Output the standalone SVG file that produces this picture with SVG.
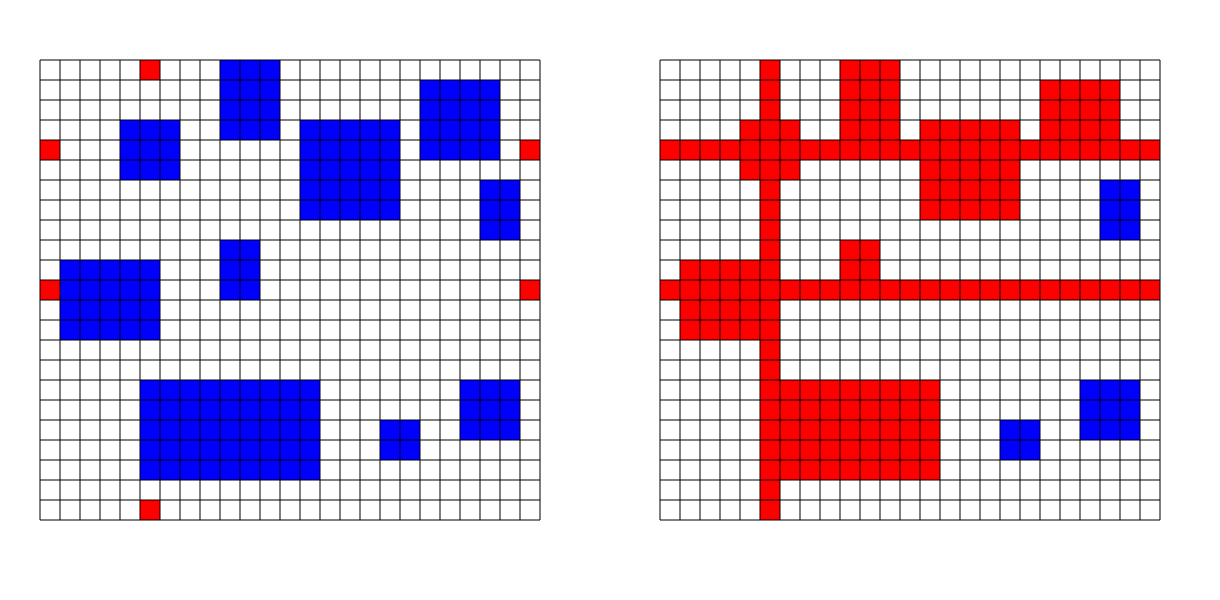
<svg xmlns="http://www.w3.org/2000/svg" xmlns:xlink="http://www.w3.org/1999/xlink" width="1220" height="600" viewBox="0 0 1220 600">
<style>
.r{fill:#ff0000}
.b{fill:#0000ff}
.g{fill:none;stroke:#000;stroke-width:1}
</style>
<defs>
<path id="grid" class="g" d="M40 60V520M60 60V520M80 60V520M100 60V520M120 60V520M140 60V520M160 60V520M180 60V520M200 60V520M220 60V520M240 60V520M260 60V520M280 60V520M300 60V520M320 60V520M340 60V520M360 60V520M380 60V520M400 60V520M420 60V520M440 60V520M460 60V520M480 60V520M500 60V520M520 60V520M540 60V520M40 60H540M40 80H540M40 100H540M40 120H540M40 140H540M40 160H540M40 180H540M40 200H540M40 220H540M40 240H540M40 260H540M40 280H540M40 300H540M40 320H540M40 340H540M40 360H540M40 380H540M40 400H540M40 420H540M40 440H540M40 460H540M40 480H540M40 500H540M40 520H540"/>
</defs>
<rect width="1220" height="600" fill="#fff"/>
<g id="left-grid">
<g class="r">
<rect x="140" y="60" width="20" height="20"/>
<rect x="40" y="140" width="20" height="20"/>
<rect x="520" y="140" width="20" height="20"/>
<rect x="40" y="280" width="20" height="20"/>
<rect x="520" y="280" width="20" height="20"/>
<rect x="140" y="500" width="20" height="20"/>
</g>
<g class="b">
<rect x="220" y="60" width="60" height="80"/>
<rect x="420" y="80" width="80" height="80"/>
<rect x="120" y="120" width="60" height="60"/>
<rect x="300" y="120" width="100" height="100"/>
<rect x="480" y="180" width="40" height="60"/>
<rect x="220" y="240" width="40" height="60"/>
<rect x="60" y="260" width="100" height="80"/>
<rect x="140" y="380" width="180" height="100"/>
<rect x="460" y="380" width="60" height="60"/>
<rect x="380" y="420" width="40" height="40"/>
</g>
<use xlink:href="#grid" href="#grid"/>
</g>
<g id="right-grid">
<g class="r">
<rect x="760" y="60" width="20" height="460"/>
<rect x="660" y="140" width="500" height="20"/>
<rect x="660" y="280" width="500" height="20"/>
<rect x="840" y="60" width="60" height="80"/>
<rect x="1040" y="80" width="80" height="80"/>
<rect x="740" y="120" width="60" height="60"/>
<rect x="920" y="120" width="100" height="100"/>
<rect x="840" y="240" width="40" height="60"/>
<rect x="680" y="260" width="100" height="80"/>
<rect x="760" y="380" width="180" height="100"/>
</g>
<g class="b">
<rect x="1100" y="180" width="40" height="60"/>
<rect x="1080" y="380" width="60" height="60"/>
<rect x="1000" y="420" width="40" height="40"/>
</g>
<use xlink:href="#grid" href="#grid" transform="translate(620,0)"/>
</g>
</svg>
